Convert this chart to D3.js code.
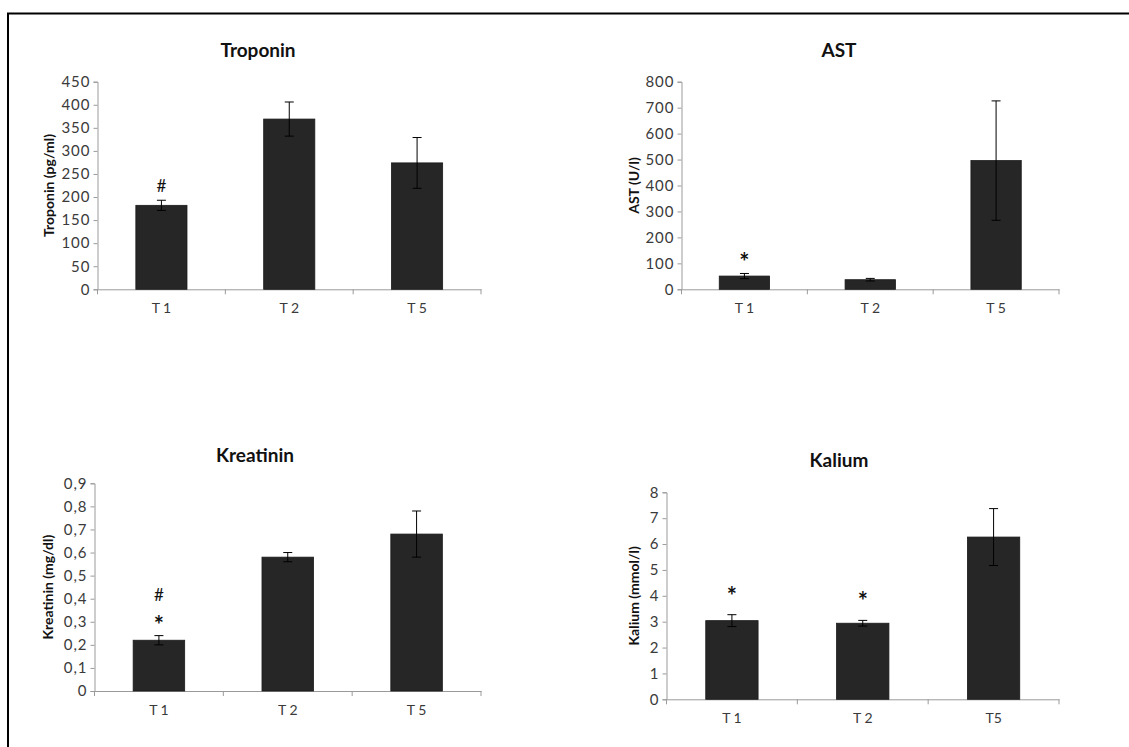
<!DOCTYPE html>
<html>
<head>
<meta charset="utf-8">
<script src="https://cdn.jsdelivr.net/npm/d3@7"></script>
<style>
  body { margin: 0; background: #fff; }
  .tick text { font-family: Lato, "Open Sans", sans-serif; fill: #3a3a3a; }
  .title { font-family: Lato, sans-serif; font-weight: bold; font-size: 19px; fill: #111; }
  .ylabel { font-family: Lato, sans-serif; font-weight: bold; font-size: 14px; fill: #111; }
  .mark { font-family: Lato, sans-serif; fill: #111; }
</style>
</head>
<body>
<div id="plot"></div>
<script>
/* values (mean, error) */
var categories = ["T 1", "T 2", "T 5"];
var kaliumCategories = ["T 1", "T 2", "T5"];

var troponinValues = [182, 369, 274];
var troponinErrors = [11, 37, 55];
var troponinMarks = [["#"], [], []];

var astValues = [51, 37, 496];
var astErrors = [10, 5, 230];
var astMarks = [["*"], [], []];

var kreatininValues = [0.22, 0.58, 0.68];
var kreatininErrors = [0.02, 0.02, 0.10];
var kreatininMarks = [["*", "#"], [], []];

var kaliumValues = [3.04, 2.94, 6.27];
var kaliumErrors = [0.23, 0.11, 1.1];
var kaliumMarks = [["*"], ["*"], []];

var width = 1129, height = 747;

var svg = d3.select('#plot')
    .append('svg')
    .attr('width', width)
    .attr('height', height);

// frame lines (top + left only, like the scan)
svg.append('line').attr('x1', 7).attr('x2', width).attr('y1', 13.5).attr('y2', 13.5)
    .style('stroke', '#000').style('stroke-width', 2);
svg.append('line').attr('x1', 8).attr('x2', 8).attr('y1', 13).attr('y2', height)
    .style('stroke', '#000').style('stroke-width', 2);

var commaFormat = function(d){ return d === 0 ? "0" : d.toFixed(1).replace('.', ','); };

var panels = [
    {title:"Troponin", label:"Troponin (pg/ml)", cats:categories, values:troponinValues, errors:troponinErrors,
        marks:troponinMarks, max:450, step:50, format:d3.format('d'),
        left:97.5, right:481, top:81.7, bottom:289.3, titleX:258, titleY:57, labelX:49, gap:8},
    {title:"AST", label:"AST (U/l)", cats:categories, values:astValues, errors:astErrors,
        marks:astMarks, max:800, step:100, format:d3.format('d'),
        left:681.5, right:1059, top:81.7, bottom:289.3, titleX:839, titleY:57, labelX:634, gap:10},
    {title:"Kreatinin", label:"Kreatinin (mg/dl)", cats:categories, values:kreatininValues, errors:kreatininErrors,
        marks:kreatininMarks, max:0.9, step:0.1, format:commaFormat,
        left:94.5, right:481, top:483.3, bottom:691, titleX:255, titleY:462, labelX:48, gap:10},
    {title:"Kalium", label:"Kalium (mmol/l)", cats:kaliumCategories, values:kaliumValues, errors:kaliumErrors,
        marks:kaliumMarks, max:8, step:1, format:d3.format('d'),
        left:666.5, right:1059, top:492.3, bottom:699.3, titleX:839, titleY:467, labelX:634, gap:18}
];

panels.forEach(drawPanel);

function drawPanel(p) {
    var g = svg.append('g').attr('class', 'panel');

    var x = d3.scaleBand().domain(p.cats).range([p.left, p.right]);
    var y = d3.scaleLinear().domain([0, p.max]).range([p.bottom, p.top]);

    var ticks = d3.range(0, Math.round(p.max / p.step) + 1).map(function(i){ return +(i * p.step).toFixed(3); });

    // y axis
    var yAxis = g.append('g')
        .attr('transform', 'translate(' + p.left + ',0)')
        .call(d3.axisLeft(y).tickValues(ticks).tickFormat(p.format).tickSize(4).tickPadding(3));
    yAxis.select('.domain').style('stroke', '#9a9a9a');
    yAxis.selectAll('.tick line').style('stroke', '#9a9a9a');
    yAxis.selectAll('.tick text').style('font-size', '15px').style('letter-spacing', '1px');

    // x axis: labels under the bars, small ticks at the category boundaries
    var xAxis = g.append('g')
        .attr('transform', 'translate(0,' + p.bottom + ')')
        .call(d3.axisBottom(x).tickSize(0).tickPadding(14).tickSizeOuter(0));
    xAxis.select('.domain').style('stroke', '#9a9a9a');
    xAxis.selectAll('.tick text').style('font-size', '14px');

    var edges = p.cats.map(function(c){ return x(c); }).concat([p.right]);
    g.selectAll('.edge')
        .data(edges)
        .enter()
        .append('line')
        .attr('class', 'edge')
        .attr('x1', function(d){ return d; })
        .attr('x2', function(d){ return d; })
        .attr('y1', p.bottom)
        .attr('y2', p.bottom + 5)
        .style('stroke', '#9a9a9a');

    var rows = p.cats.map(function(c, i){
        return {cat:c, v:p.values[i], e:p.errors[i], marks:p.marks[i]};
    });

    var barW = x.bandwidth() * 0.4;

    g.selectAll('.bar')
        .data(rows)
        .enter()
        .append('rect')
        .attr('class', 'bar')
        .attr('x', function(d){ return x(d.cat) + x.bandwidth() / 2 - barW / 2; })
        .attr('y', function(d){ return y(d.v); })
        .attr('width', barW)
        .attr('height', function(d){ return p.bottom - y(d.v); })
        .style('fill', '#262626')
        .style('stroke', '#1a1a1a')
        .style('stroke-width', 0.8);

    // error bars
    var err = g.selectAll('.err')
        .data(rows)
        .enter()
        .append('g')
        .attr('class', 'err')
        .attr('transform', function(d){ return 'translate(' + (x(d.cat) + x.bandwidth() / 2) + ',0)'; });

    err.append('line')
        .attr('y1', function(d){ return y(d.v + d.e); })
        .attr('y2', function(d){ return y(d.v - d.e); });
    err.append('line')
        .attr('x1', -4.5).attr('x2', 4.5)
        .attr('y1', function(d){ return y(d.v + d.e); })
        .attr('y2', function(d){ return y(d.v + d.e); });
    err.append('line')
        .attr('x1', -4.5).attr('x2', 4.5)
        .attr('y1', function(d){ return y(d.v - d.e); })
        .attr('y2', function(d){ return y(d.v - d.e); });
    err.selectAll('line').style('stroke', '#000').style('stroke-width', 1);

    // significance marks, stacked upwards from the error bar top
    err.each(function(d){
        var base = y(d.v + d.e) - p.gap;
        d3.select(this).selectAll('.mark')
            .data(d.marks)
            .enter()
            .append('text')
            .attr('class', 'mark')
            .attr('text-anchor', 'middle')
            .attr('y', function(m, i){ return base - i * 25 + (m === '*' ? 8 : 0); })
            .style('font-size', function(m){ return m === '*' ? '24px' : '17px'; })
            .style('font-weight', function(m){ return m === '*' ? 'bold' : 'normal'; })
            .text(function(m){ return m; });
    });

    g.append('text')
        .attr('class', 'title')
        .attr('x', p.titleX)
        .attr('y', p.titleY)
        .attr('text-anchor', 'middle')
        .text(p.title);

    g.append('text')
        .attr('class', 'ylabel')
        .attr('transform', 'translate(' + p.labelX + ',' + (p.top + p.bottom) / 2 + ') rotate(-90)')
        .attr('text-anchor', 'middle')
        .attr('dy', '0.35em')
        .text(p.label);
}
</script>
</body>
</html>
